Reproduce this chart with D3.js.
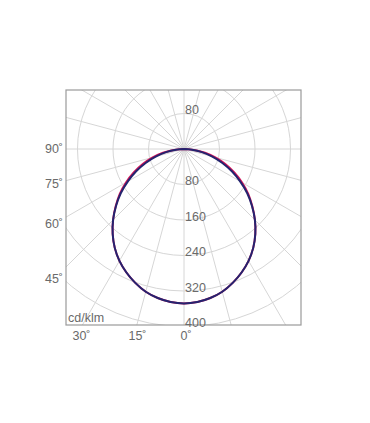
<!DOCTYPE html>
<html>
<head>
<meta charset="utf-8">
<script src="https://cdn.jsdelivr.net/npm/d3@7"></script>
<style>
  html, body { margin: 0; padding: 0; background: #fff; }
  svg text { font-family: "Liberation Sans", Arial, sans-serif; }
</style>
</head>
<body>
<svg id="chart" width="370" height="423"></svg>
<script>
// ---- data (cd/klm) ----
const gammaAngles = [0,5,10,15,20,25,30,35,40,45,50,55,60,65,70,75,80,85,90];
const planeC0C180 = [348,346,341,333,321,307,291,272,250,226,201,177,151,125,99,73,48,23,0];
const planeC90C270 = [348,346,341,333,321,307,291,272,250,226,200,174,146,119,92,66,41,18,0];
const ringValues = [80,160,240,320,400,480];
const ringLabelsBelow = ["80","160","240","320","400"];
const ringLabelAbove = "80";
const leftAngleLabels = [90,75,60,45];
const bottomAngleLabels = [30,15,0];
const unitLabel = "cd/klm";
const spokeStep = 15;

const svg = d3.select("#chart");
const box = {x0: 66, y0: 90, x1: 301, y1: 325};
const cx = 184, cy = 149;
const r = d3.scaleLinear().domain([0, 400]).range([0, 177.5]);

svg.append("defs").append("clipPath").attr("id", "boxclip")
  .append("rect").attr("x", box.x0).attr("y", box.y0)
  .attr("width", box.x1 - box.x0).attr("height", box.y1 - box.y0);

const grid = svg.append("g").attr("clip-path", "url(#boxclip)");
const g = grid.append("g").attr("transform", `translate(${cx},${cy})`);

// rings
g.selectAll("circle.ring").data(ringValues).enter().append("circle")
  .attr("class", "ring").attr("r", d => r(d))
  .attr("fill", "none").attr("stroke", "#d6d6d6").attr("stroke-width", 1);

// spokes
const spokes = d3.range(0, 360, spokeStep);
g.selectAll("line.spoke").data(spokes).enter().append("line")
  .attr("class", "spoke")
  .attr("x1", 0).attr("y1", 0)
  .attr("x2", d => 400 * Math.sin(d * Math.PI / 180))
  .attr("y2", d => 400 * Math.cos(d * Math.PI / 180))
  .attr("stroke", "#d6d6d6").attr("stroke-width", 1);

// curves
function fullCurve(vals) {
  const pts = [];
  for (let i = gammaAngles.length - 1; i >= 0; i--) pts.push([-gammaAngles[i], vals[i]]);
  for (let i = 1; i < gammaAngles.length; i++) pts.push([gammaAngles[i], vals[i]]);
  return pts;
}
const radial = d3.lineRadial()
  .angle(d => Math.PI - d[0] * Math.PI / 180)
  .radius(d => r(d[1]))
  .curve(d3.curveCatmullRom.alpha(0.5));

g.append("path").datum(fullCurve(planeC0C180))
  .attr("d", radial).attr("fill", "none")
  .attr("stroke", "#d4145a").attr("stroke-width", 2);
g.append("path").datum(fullCurve(planeC90C270))
  .attr("d", radial).attr("fill", "none")
  .attr("stroke", "#24246f").attr("stroke-width", 2);

// box border
svg.append("rect").attr("x", box.x0).attr("y", box.y0)
  .attr("width", box.x1 - box.x0).attr("height", box.y1 - box.y0)
  .attr("fill", "none").attr("stroke", "#9a9a9a").attr("stroke-width", 1.2);

// ring labels
const txtColor = "#6a6a6a";
svg.selectAll("text.rl").data(ringLabelsBelow).enter().append("text")
  .attr("class", "rl")
  .attr("x", cx + 1)
  .attr("y", d => cy + r(+d) + 0.5)
  .attr("font-size", 12.5).attr("fill", txtColor)
  .text(d => d);
svg.append("text").attr("x", cx + 1).attr("y", cy - r(+ringLabelAbove) + 0.5)
  .attr("font-size", 12.5).attr("fill", txtColor).text(ringLabelAbove);

// unit label
svg.append("text").attr("x", 68).attr("y", 322)
  .attr("font-size", 12.5).attr("fill", txtColor).text(unitLabel);

// left angle labels
svg.selectAll("text.la").data(leftAngleLabels).enter().append("text")
  .attr("class", "la")
  .attr("x", cx - 130)
  .attr("y", d => cy + 130 / Math.tan(d * Math.PI / 180) + 4)
  .attr("text-anchor", "middle")
  .attr("font-size", 12.5).attr("fill", txtColor)
  .text(d => d + "˚");

// bottom angle labels
svg.selectAll("text.ba").data(bottomAngleLabels).enter().append("text")
  .attr("class", "ba")
  .attr("x", d => cx - 181 * Math.tan(d * Math.PI / 180) + 2)
  .attr("y", cy + 191)
  .attr("text-anchor", "middle")
  .attr("font-size", 12.5).attr("fill", txtColor)
  .text(d => d + "˚");
</script>
</body>
</html>
